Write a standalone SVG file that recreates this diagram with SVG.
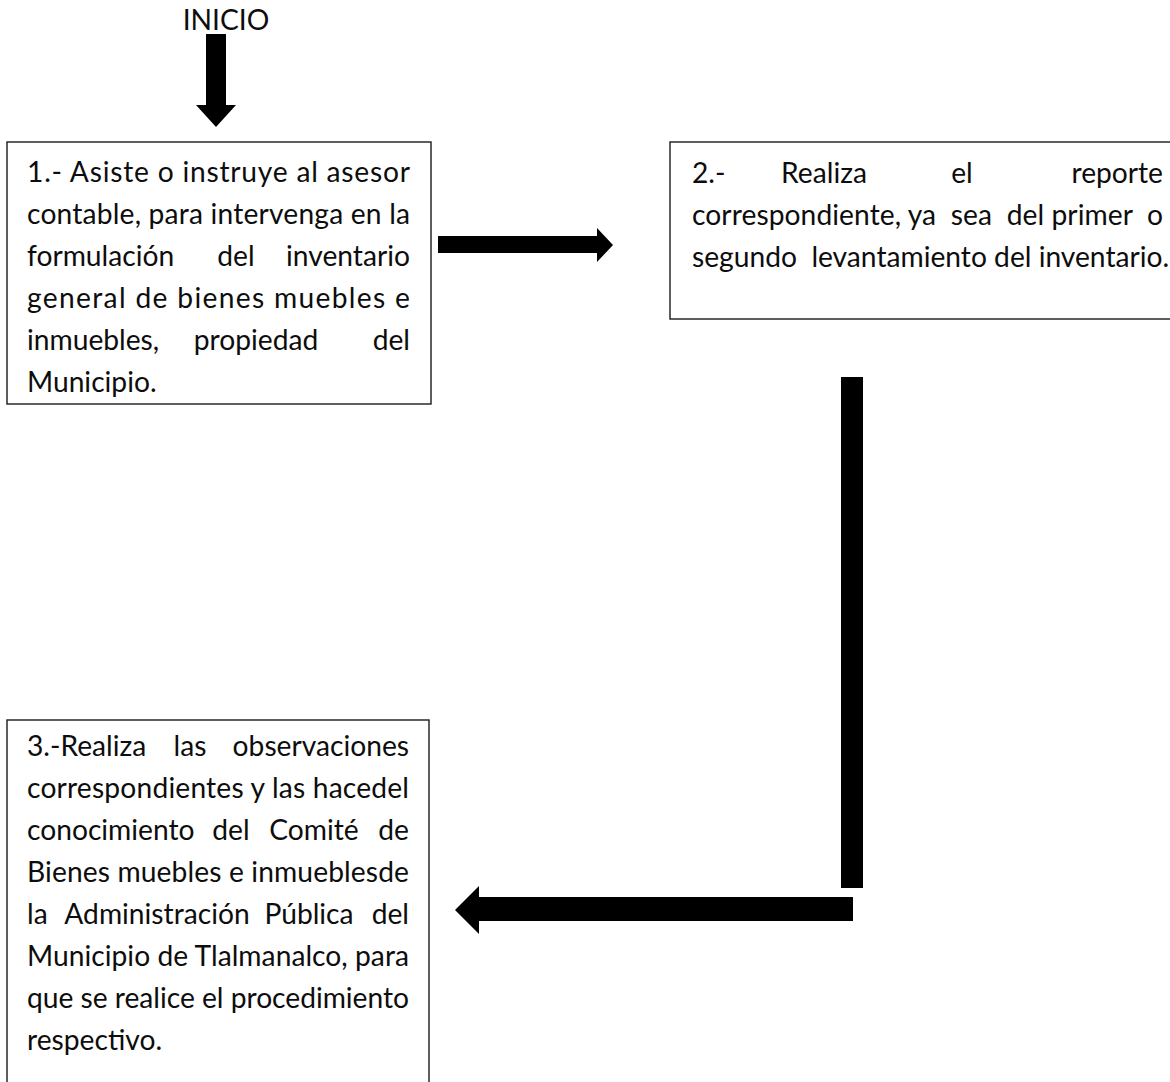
<svg xmlns="http://www.w3.org/2000/svg" width="1170" height="1082" viewBox="0 0 1170 1082">
  <style>
    .bg { fill: #ffffff; }
    .box { fill: #ffffff; stroke: #1a1a1a; stroke-width: 1.4; }
    .arrow { fill: #000000; }
    .t { font-family: Lato, "Liberation Sans", sans-serif; font-size: 28.2px; fill: #0d0d0d; }
    .end { text-anchor: end; }
    .mid { text-anchor: middle; }
  </style>
  <rect class="bg" x="0" y="0" width="1170" height="1082"/>

  <!-- start label -->
  <g id="inicio">
    <text class="t mid" x="226" y="30">INICIO</text>
  </g>

  <!-- connectors -->
  <g id="connectors">
    <polygon class="arrow" points="206,34 226,34 226,105 236,105 216,127 196,105 206,105"/>
    <polygon class="arrow" points="438,236 597,236 597,228 613,245 597,262 597,253 438,253"/>
    <rect class="arrow" x="841" y="377" width="22" height="511"/>
    <polygon class="arrow" points="853,897 853,921 479,921 479,934 455,910 479,886 479,897"/>
  </g>

  <!-- step 1 -->
  <g id="step1">
    <rect class="box" x="7" y="142" width="424" height="262"/>
    <text class="t" x="27" y="182" textLength="383" lengthAdjust="spacing">1.- Asiste o instruye al asesor</text>
    <text class="t" x="27" y="224" textLength="383" lengthAdjust="spacing">contable, para intervenga en la</text>
    <text class="t" x="27" y="266">formulación</text>
    <text class="t mid" x="236" y="266">del</text>
    <text class="t end" x="410" y="266">inventario</text>
    <text class="t" x="27" y="308" textLength="383" lengthAdjust="spacing">general de bienes muebles e</text>
    <text class="t" x="27" y="350">inmuebles,</text>
    <text class="t mid" x="256" y="350">propiedad</text>
    <text class="t end" x="410" y="350">del</text>
    <text class="t" x="27" y="392">Municipio.</text>
  </g>

  <!-- step 2 -->
  <g id="step2">
    <rect class="box" x="670" y="142" width="520" height="177"/>
    <text class="t" x="692" y="183">2.-</text>
    <text class="t mid" x="824" y="183">Realiza</text>
    <text class="t mid" x="962" y="183">el</text>
    <text class="t end" x="1163" y="183">reporte</text>
    <text class="t" x="692" y="225" textLength="471" lengthAdjust="spacing" xml:space="preserve">correspondiente, ya  sea  del primer  o</text>
    <text class="t" x="692" y="267" xml:space="preserve">segundo  levantamiento del inventario.</text>
  </g>

  <!-- step 3 -->
  <g id="step3">
    <rect class="box" x="7" y="720" width="422" height="380"/>
    <text class="t" x="27" y="756">3.-Realiza</text>
    <text class="t mid" x="190" y="756">las</text>
    <text class="t end" x="409" y="756">observaciones</text>
    <text class="t" x="27" y="798" textLength="382" lengthAdjust="spacing">correspondientes y las hacedel</text>
    <text class="t" x="27" y="840">conocimiento</text>
    <text class="t mid" x="231" y="840">del</text>
    <text class="t mid" x="314" y="840">Comité</text>
    <text class="t end" x="409" y="840">de</text>
    <text class="t" x="27" y="882" textLength="382" lengthAdjust="spacing">Bienes muebles e inmueblesde</text>
    <text class="t" x="27" y="924">la</text>
    <text class="t mid" x="157" y="924">Administración</text>
    <text class="t mid" x="309" y="924">Pública</text>
    <text class="t end" x="409" y="924">del</text>
    <text class="t" x="27" y="966" textLength="382" lengthAdjust="spacing">Municipio de Tlalmanalco, para</text>
    <text class="t" x="27" y="1008" textLength="382" lengthAdjust="spacing">que se realice el procedimiento</text>
    <text class="t" x="27" y="1050">respectivo.</text>
  </g>
</svg>
